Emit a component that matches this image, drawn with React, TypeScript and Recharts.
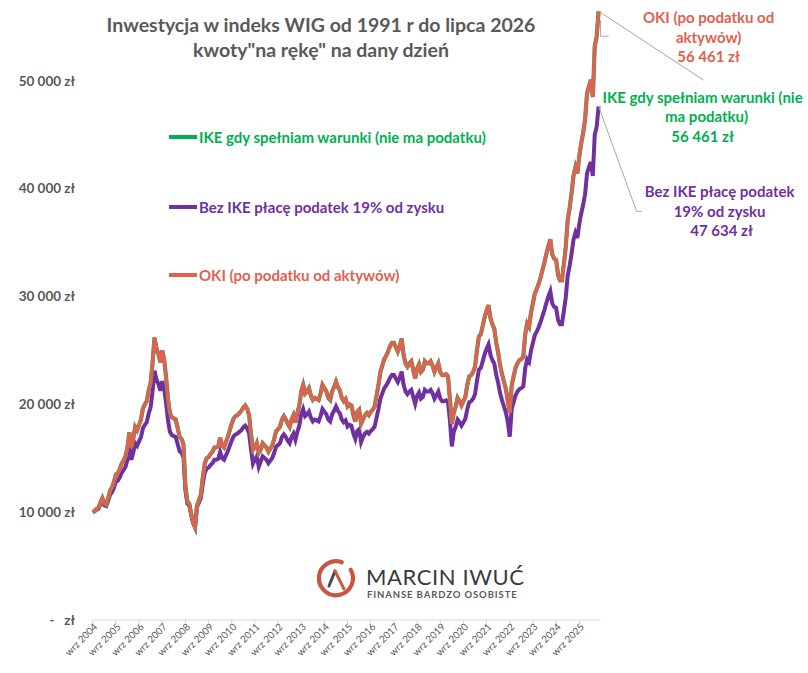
import React from 'react';
import { LineChart, Line, XAxis, YAxis, Legend, LabelList } from 'recharts';

const FONT = "Lato, 'Open Sans', sans-serif";
const GREEN = '#1FAA55';
const GREEN_TEXT = '#00B050';
const PURPLE = '#7030A0';
const RED = '#E0614F';
const GREY = '#595959';

const MONTHS = ['sty', 'lut', 'mar', 'kwi', 'maj', 'cze', 'lip', 'sie', 'wrz', 'paź', 'lis', 'gru'];
const START_YEAR = 2004;
const START_MONTH = 8; // wrz

// IKE – value "na rękę" (zł), monthly from wrz 2004 to lip 2026
const IKE = [
  10000, 10100, 10300, 10400, 10900, 11300, 10800, 10700, 11300, 12000,
  12300, 12800, 13500, 13600, 14000, 14500, 14800, 15200, 16000, 17400,
  16000, 16800, 17900, 17600, 18100, 18600, 19600, 20000, 20300, 21300,
  22000, 23800, 26200, 25200, 24700, 23900, 25000, 24200, 22500, 20500,
  19200, 18800, 18700, 18600, 17800, 17000, 16800, 16300, 12500, 11000,
  10800, 9800, 9000, 8600, 10600, 11100, 11600, 13200, 14500, 15000,
  15100, 15400, 15600, 16000, 16000, 16100, 16900, 16200, 16000, 16500,
  17000, 17600, 18200, 18700, 18900, 19000, 19200, 19400, 19700, 19900,
  19600, 19000, 17200, 15800, 16000, 16400, 15500, 15800, 16400, 16200,
  16000, 15600, 15900, 16200, 16800, 17500, 17700, 17900, 18600, 18900,
  18600, 18200, 17900, 18600, 19000, 18300, 19200, 19900, 21200, 21800,
  21000, 21200, 21500, 20800, 20400, 20600, 20500, 20400, 21000, 21800,
  21500, 21200, 20600, 20400, 21200, 21600, 22100, 21600, 21300, 20600,
  20300, 20500, 19800, 20000, 19900, 19000, 18400, 19300, 19500, 18200,
  18600, 19000, 19200, 19000, 19300, 19500, 19800, 20800, 21800, 23000,
  23600, 24200, 24500, 24900, 25400, 25700, 25700, 25300, 24900, 25400,
  26100, 24600, 23800, 23500, 23800, 24000, 23200, 22400, 23300, 23700,
  23000, 23200, 24000, 23800, 23800, 24000, 23600, 23000, 23400, 23800,
  23000, 22700, 22700, 22800, 22600, 20500, 18200, 19200, 19800, 20600,
  20300, 19900, 20300, 20700, 21800, 22600, 22700, 23000, 23500, 25000,
  26300, 26500, 27300, 28100, 28700, 29200, 28000, 27400, 27000, 25700,
  24800, 23600, 22800, 22100, 21400, 20300, 19200, 21800, 22600, 23400,
  23800, 24100, 24200, 24400, 26500, 27500, 27200, 28500, 29400, 30300,
  30700, 31200, 31800, 32500, 33200, 34000, 34700, 35300, 33900, 33500,
  33400, 32000, 31500, 31500, 33000, 34600, 37100, 38200, 39600, 41200,
  42000, 41400, 43000, 44200, 45200, 46400, 48800, 49500, 50100, 48500,
  53200, 54100, 56461,
];

// OKI – after asset tax (same as IKE below the tax-free threshold)
const OKI = [
  10000, 10100, 10300, 10400, 10900, 11300, 10800, 10700, 11300, 12000,
  12300, 12800, 13500, 13600, 14000, 14500, 14800, 15200, 16000, 17400,
  16000, 16800, 17900, 17600, 18100, 18600, 19600, 20000, 20300, 21300,
  22000, 23800, 26200, 25200, 24700, 23900, 25000, 24200, 22500, 20500,
  19200, 18800, 18700, 18600, 17800, 17000, 16800, 16300, 12500, 11000,
  10800, 9800, 9000, 8600, 10600, 11100, 11600, 13200, 14500, 15000,
  15100, 15400, 15600, 16000, 16000, 16100, 16900, 16200, 16000, 16500,
  17000, 17600, 18200, 18700, 18900, 19000, 19200, 19400, 19700, 19900,
  19600, 19000, 17200, 15800, 16000, 16400, 15500, 15800, 16400, 16200,
  16000, 15600, 15900, 16200, 16800, 17500, 17700, 17900, 18600, 18900,
  18600, 18200, 17900, 18600, 19000, 18300, 19200, 19900, 21200, 21800,
  21000, 21200, 21500, 20800, 20400, 20600, 20500, 20400, 21000, 21800,
  21500, 21200, 20600, 20400, 21200, 21600, 22100, 21600, 21300, 20600,
  20300, 20500, 19800, 20000, 19900, 19000, 18400, 19300, 19500, 18200,
  18600, 19000, 19200, 19000, 19300, 19500, 19800, 20800, 21800, 23000,
  23600, 24200, 24500, 24900, 25400, 25700, 25700, 25300, 24900, 25400,
  26100, 24600, 23800, 23500, 23800, 24000, 23200, 22400, 23300, 23700,
  23000, 23200, 24000, 23800, 23800, 24000, 23600, 23000, 23400, 23800,
  23000, 22700, 22700, 22800, 22600, 20500, 18200, 19200, 19800, 20600,
  20300, 19900, 20300, 20700, 21800, 22600, 22700, 23000, 23500, 25000,
  26300, 26500, 27300, 28100, 28700, 29200, 28000, 27400, 27000, 25700,
  24800, 23600, 22800, 22100, 21400, 20300, 19200, 21800, 22600, 23400,
  23800, 24100, 24200, 24400, 26500, 27500, 27200, 28500, 29400, 30300,
  30700, 31200, 31800, 32500, 33200, 34000, 34700, 35300, 33900, 33500,
  33400, 32000, 31500, 31500, 33000, 34600, 37100, 38200, 39600, 41200,
  42000, 41400, 43000, 44200, 45200, 46400, 48800, 49500, 50100, 48500,
  53200, 54100, 56461,
];

// Bez IKE – after 19% tax on gains
const BEZ_IKE = [
  10000, 10080, 10240, 10320, 10730, 11050, 10650, 10570, 11050, 11620,
  11860, 12270, 12840, 12920, 13240, 13650, 13890, 14210, 14860, 15990,
  14860, 15510, 16400, 16160, 16560, 16970, 17780, 18100, 18340, 19150,
  19720, 21180, 23120, 22310, 21910, 21260, 22150, 21500, 20130, 18510,
  17450, 17130, 17050, 16970, 16320, 15670, 15510, 15100, 12030, 10810,
  10650, 9800, 9000, 8600, 10490, 10890, 11300, 12590, 13650, 14050,
  14130, 14370, 14540, 14860, 14860, 14940, 15590, 15020, 14860, 15270,
  15670, 16160, 16640, 17050, 17210, 17290, 17450, 17610, 17860, 18020,
  17780, 17290, 15830, 14500, 14860, 15180, 14200, 14700, 15180, 15020,
  14860, 14540, 14780, 15020, 15510, 16080, 16240, 16400, 16970, 17210,
  16970, 16640, 16400, 16970, 17290, 16720, 17450, 18020, 19070, 19560,
  18910, 19070, 19320, 18750, 18420, 18590, 18510, 18420, 18910, 19560,
  19320, 19070, 18590, 18420, 19070, 19400, 19800, 19400, 19150, 18590,
  18340, 18510, 17940, 18100, 18020, 17290, 16800, 17530, 17700, 16500,
  16970, 17290, 17450, 17290, 17530, 17700, 17940, 18750, 19560, 20530,
  21020, 21500, 21750, 22070, 22470, 22720, 22720, 22390, 22070, 22470,
  23040, 21830, 21180, 20940, 21180, 21340, 20690, 20040, 20770, 21100,
  20530, 20690, 21340, 21180, 21180, 21340, 21020, 20530, 20850, 21180,
  20530, 20290, 20290, 20370, 20210, 18510, 16100, 17450, 17940, 18590,
  18340, 18020, 18340, 18670, 19560, 20210, 20290, 20530, 20940, 22150,
  23200, 23370, 24010, 24660, 25150, 25550, 24580, 24090, 23770, 22720,
  21990, 21020, 20370, 19800, 19230, 18340, 17000, 19560, 20210, 20850,
  21180, 21420, 21500, 21660, 23370, 24180, 23930, 24990, 25710, 26440,
  26770, 27170, 27660, 28230, 28790, 29440, 30010, 30490, 29360, 29040,
  28950, 27820, 27420, 27420, 28630, 29930, 31950, 32840, 33980, 35270,
  35920, 35430, 36730, 37700, 38510, 39480, 41430, 42000, 42480, 41190,
  44990, 45720, 47634,
];

const X_TICKS = [
  'wrz 2004', 'wrz 2005', 'wrz 2006', 'wrz 2007', 'wrz 2008', 'wrz 2009', 'wrz 2010', 'wrz 2011',
  'wrz 2012', 'wrz 2013', 'wrz 2014', 'wrz 2015', 'wrz 2016', 'wrz 2017', 'wrz 2018', 'wrz 2019',
  'wrz 2020', 'wrz 2021', 'wrz 2022', 'wrz 2023', 'wrz 2024', 'wrz 2025',
];
const Y_TICKS = [0, 10000, 20000, 30000, 40000, 50000];

const SERIES = [
  { key: 'ike', name: 'IKE gdy spełniam warunki (nie ma podatku)', color: GREEN_TEXT, text: GREEN_TEXT },
  { key: 'bez', name: 'Bez IKE płacę podatek 19% od zysku', color: PURPLE, text: PURPLE },
  { key: 'oki', name: 'OKI (po podatku od aktywów)', color: RED, text: RED },
];

const categories = IKE.map(
  (_, i) => `${MONTHS[(START_MONTH + i) % 12]} ${START_YEAR + Math.floor((START_MONTH + i) / 12)}`
);
const data = categories.map((month, i) => ({ month, ike: IKE[i], bez: BEZ_IKE[i], oki: OKI[i] }));

const LAST = IKE.length - 1;

const fmtThousands = (v: number) => String(Math.round(v)).replace(/\B(?=(\d{3})+(?!\d))/g, '\u00a0');
const fmtZl = (v: number) => `${fmtThousands(v)}\u00a0zł`;
const fmtY = (v: number) => (v === 0 ? '-\u00a0\u00a0\u00a0zł' : fmtZl(v));

const labelStyle: React.CSSProperties = { fontFamily: FONT, fontWeight: 700, fontSize: 15 };

const getPos = (p: any) => ({
  x: p.x ?? p.viewBox?.x,
  y: p.y ?? p.viewBox?.y,
});
const isLast = (p: any, lastValue: number) =>
  p.index === LAST || (p.index == null && Number(p.value) === lastValue);

const OkiEndLabel = (p: any) => {
  if (!isLast(p, OKI[LAST])) return null;
  const { x, y } = getPos(p);
  if (x == null || y == null) return null;
  const cx = x + 110;
  return (
    <g>
      <line x1={x} y1={y} x2={x + 105} y2={y + 69} stroke="#A6A6A6" strokeWidth={1} />
      <text textAnchor="middle" fill={RED} style={labelStyle}>
        <tspan x={cx} y={y + 12}>OKI (po podatku od</tspan>
        <tspan x={cx} y={y + 32}>aktywów)</tspan>
        <tspan x={cx} y={y + 51}>{fmtZl(Number(p.value))}</tspan>
      </text>
    </g>
  );
};

const IkeEndLabel = (p: any) => {
  if (!isLast(p, IKE[LAST])) return null;
  const { x, y } = getPos(p);
  if (x == null || y == null) return null;
  const cx = x + 104;
  return (
    <g>
      <path d={`M${x + 2},${y + 9} V${y + 25} H${x + 10}`} fill="none" stroke="#A6A6A6" strokeWidth={1} />
      <text textAnchor="middle" fill={GREEN_TEXT} style={labelStyle}>
        <tspan x={cx} y={y + 92}>IKE gdy spełniam warunki (nie</tspan>
        <tspan x={cx + 4} y={y + 111}>ma podatku)</tspan>
        <tspan x={cx} y={y + 131}>{fmtZl(Number(p.value))}</tspan>
      </text>
    </g>
  );
};

const BezEndLabel = (p: any) => {
  if (!isLast(p, BEZ_IKE[LAST])) return null;
  const { x, y } = getPos(p);
  if (x == null || y == null) return null;
  const cx = x + 121;
  return (
    <g>
      <path d={`M${x},${y} L${x + 38},${y + 105} H${x + 43}`} fill="none" stroke="#A6A6A6" strokeWidth={1} />
      <text textAnchor="middle" fill={PURPLE} style={labelStyle}>
        <tspan x={cx} y={y + 91}>Bez IKE płacę podatek</tspan>
        <tspan x={cx} y={y + 111}>19% od zysku</tspan>
        <tspan x={cx + 2} y={y + 130}>{fmtZl(Number(p.value))}</tspan>
      </text>
    </g>
  );
};

const XTick = (props: any) => {
  const { x, y, payload } = props;
  return (
    <g transform={`translate(${x + 3},${y - 1})`}>
      <text
        x={0}
        y={0}
        dy="0.35em"
        textAnchor="end"
        transform="rotate(-45)"
        fill={GREY}
        style={{ fontFamily: FONT, fontSize: 9.8 }}
      >
        {payload.value}
      </text>
    </g>
  );
};

const LegendBox = () => (
  <div style={{ position: 'relative', width: 340, height: 160 }}>
    {SERIES.map((s, i) => (
      <div
        key={s.key}
        style={{
          position: 'absolute',
          left: 0,
          top: [0, 70, 138][i],
          height: 20,
          display: 'flex',
          alignItems: 'center',
          whiteSpace: 'nowrap',
        }}
      >
        <div style={{ width: 28, height: 4, background: s.color }} />
        <span
          style={{
            marginLeft: 2,
            color: s.text,
            fontFamily: FONT,
            fontWeight: 700,
            fontSize: 15,
          }}
        >
          {s.name}
        </span>
      </div>
    ))}
  </div>
);

const Logo = () => (
  <>
    <svg width={48} height={48} style={{ position: 'absolute', left: 312, top: 555 }}>
      <path d="M38.7,14.8 A17,17 0 1 1 29.8,7.3" fill="none" stroke="#C9573F" strokeWidth={4.2} strokeLinecap="round" />
      <path d="M17,31 L23,16" fill="none" stroke="#4A4A4A" strokeWidth={3} strokeLinecap="round" />
      <path d="M23,16 L32,34" fill="none" stroke="#C9573F" strokeWidth={3} strokeLinecap="round" />
    </svg>
    <div
      style={{
        position: 'absolute',
        left: 366,
        top: 567,
        fontFamily: FONT,
        fontWeight: 400,
        fontSize: 22,
        lineHeight: '20px',
        letterSpacing: 0.6,
        color: '#3A3A3A',
        whiteSpace: 'nowrap',
      }}
    >
      MARCIN IWUĆ
    </div>
    <div
      style={{
        position: 'absolute',
        left: 367,
        top: 590,
        fontFamily: FONT,
        fontWeight: 700,
        fontSize: 9.5,
        lineHeight: '9px',
        letterSpacing: 0.9,
        color: '#5A5A5A',
        whiteSpace: 'nowrap',
      }}
    >
      FINANSE BARDZO OSOBISTE
    </div>
  </>
);

export default function App() {
  return (
    <div style={{ position: 'absolute', left: 0, top: 0, width: 808, height: 673, background: '#fff' }}>
      <LineChart
        width={808}
        height={673}
        data={data}
        margin={{ top: 0, right: 207.4, bottom: 0, left: 0 }}
      >
        <XAxis
          dataKey="month"
          ticks={X_TICKS}
          interval={0}
          height={53}
          padding={{ left: 0, right: 2 }}
          axisLine={{ stroke: '#D9D9D9' }}
          tickLine={{ stroke: '#D9D9D9' }}
          tickSize={4}
          tick={(props: any) => <XTick {...props} />}
        />
        <YAxis
          width={92.7}
          domain={[0, 57500]}
          ticks={Y_TICKS}
          interval={0}
          axisLine={false}
          tickLine={false}
          tickSize={6}
          tickMargin={11.7}
          tickFormatter={fmtY}
          tick={{ fontSize: 13.5, fontWeight: 700, fill: GREY, fontFamily: FONT }}
        />
        <Legend
          layout="horizontal"
          verticalAlign="middle"
          align="center"
          content={() => <LegendBox />}
          wrapperStyle={{ position: 'absolute', left: 169, top: 127, width: 340, height: 160, margin: 0 }}
        />
        <Line
          dataKey="bez"
          name={SERIES[1].name}
          stroke={PURPLE}
          strokeWidth={4}
          dot={false}
          activeDot={false}
          isAnimationActive={false}
        >
          <LabelList dataKey="bez" content={BezEndLabel} />
        </Line>
        <Line
          dataKey="ike"
          name={SERIES[0].name}
          stroke={GREEN}
          strokeWidth={4.2}
          dot={false}
          activeDot={false}
          isAnimationActive={false}
        >
          <LabelList dataKey="ike" content={IkeEndLabel} />
        </Line>
        <Line
          dataKey="oki"
          name={SERIES[2].name}
          stroke={RED}
          strokeWidth={3.5}
          dot={false}
          activeDot={false}
          isAnimationActive={false}
        >
          <LabelList dataKey="oki" content={OkiEndLabel} />
        </Line>
      </LineChart>
      <div
        style={{
          position: 'absolute',
          left: 71,
          top: 11.5,
          width: 500,
          textAlign: 'center',
          fontFamily: FONT,
          fontWeight: 700,
          fontSize: 19.5,
          lineHeight: '25px',
          color: GREY,
          pointerEvents: 'none',
        }}
      >
        <div>Inwestycja w indeks WIG od 1991 r do lipca 2026</div>
        <div>kwoty"na rękę" na dany dzień</div>
      </div>
      <Logo />
    </div>
  );
}
